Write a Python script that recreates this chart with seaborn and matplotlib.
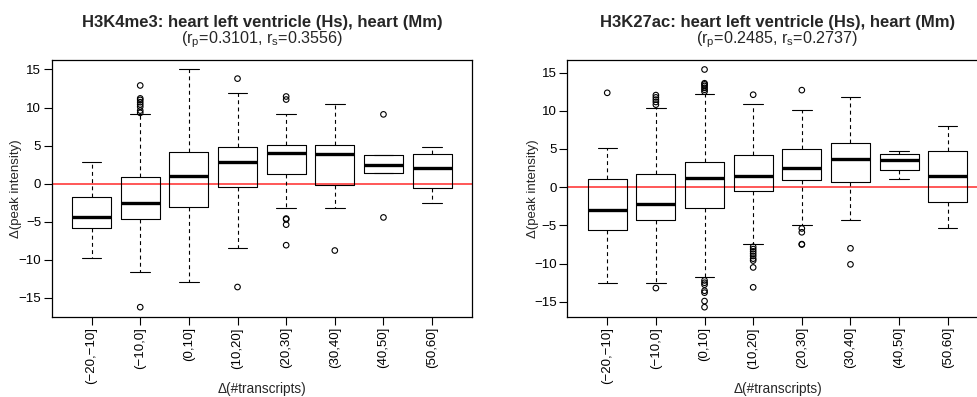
import numpy as np
import pandas as pd
import matplotlib
matplotlib.use("Agg")
import matplotlib.pyplot as plt
import seaborn as sns

# ---------------- data ----------------
categories = ["(\u221220,\u221210]", "(\u221210,0]", "(0,10]", "(10,20]",
              "(20,30]", "(30,40]", "(40,50]", "(50,60]"]

k4_title = "H3K4me3: heart left ventricle (Hs), heart (Mm)"
k4_sub = r"(r$_\mathrm{p}$=0.3101, r$_\mathrm{s}$=0.3556)"
k4_whislo = [-9.8, -11.6, -12.9, -8.5, -3.2, -3.2, 1.4, -2.55]
k4_q1 = [-5.8, -4.6, -3.1, -0.5, 1.3, -0.2, 1.4, -0.6]
k4_med = [-4.45, -2.6, 0.95, 2.8, 4.0, 3.9, 2.45, 2.1]
k4_q3 = [-1.7, 0.9, 4.2, 4.8, 5.1, 5.05, 3.7, 3.85]
k4_whishi = [2.8, 9.15, 15.0, 11.95, 9.2, 10.5, 3.7, 4.85]
k4_fliers = [[],
             [12.9, 11.2, 11.0, 10.7, 10.4, 10.1, 9.6, 9.3, -16.25],
             [],
             [13.8, -13.6],
             [11.45, 11.05, -4.6, -4.7, -5.4, -8.1],
             [-8.8],
             [9.1, -4.45],
             []]

k27_title = "H3K27ac: heart left ventricle (Hs), heart (Mm)"
k27_sub = r"(r$_\mathrm{p}$=0.2485, r$_\mathrm{s}$=0.2737)"
k27_whislo = [-12.6, -12.55, -11.7, -7.45, -4.9, -4.3, 1.1, -5.3]
k27_q1 = [-5.6, -4.3, -2.7, -0.5, 1.0, 0.7, 2.25, -1.9]
k27_med = [-3.0, -2.2, 1.2, 1.5, 2.55, 3.75, 3.6, 1.5]
k27_q3 = [1.05, 1.7, 3.35, 4.25, 4.95, 5.75, 4.4, 4.75]
k27_whishi = [5.15, 10.35, 12.25, 10.95, 10.1, 11.75, 4.75, 8.0]
k27_fliers = [[12.35],
              [12.05, 11.75, 11.45, 11.15, 10.8, -13.2],
              [15.4, 13.6, 13.45, 13.25, 13.0, 12.75, 12.5,
               -12.2, -12.5, -12.75, -13.55, -13.8, -14.9, -15.7],
              [12.1, -7.8, -8.1, -8.4, -8.7, -9.0, -9.35, -9.6, -10.5, -13.1],
              [12.7, -5.4, -5.9, -7.45, -7.5],
              [-8.0, -10.1],
              [],
              []]

yticks = [-15, -10, -5, 0, 5, 10, 15]
xlabel = "\u0394(#transcripts)"
ylabel = "\u0394(peak intensity)"

# ---------------- style ----------------
sns.set_theme(style="ticks")
plt.rcParams["font.family"] = ["Liberation Sans", "DejaVu Sans"]
plt.rcParams["mathtext.fontset"] = "custom"
plt.rcParams["mathtext.rm"] = "Liberation Sans"
plt.rcParams["mathtext.default"] = "regular"

fig = plt.figure(figsize=(9.77, 3.97), dpi=100)
ax_pos = [[0.0529, 0.2023, 0.4302, 0.6466],
          [0.5807, 0.2023, 0.4302, 0.6466]]


def draw(ax, title, sub, whislo, q1, med, q3, whishi, fliers):
    stats = []
    for i in range(len(categories)):
        stats.append(dict(whislo=whislo[i], q1=q1[i], med=med[i], q3=q3[i],
                          whishi=whishi[i], fliers=[], label=categories[i]))
    pos = np.arange(len(categories))
    ax.bxp(stats, positions=pos, widths=0.8, capwidths=0.4, showfliers=False,
           patch_artist=False,
           boxprops=dict(color="black", lw=0.8),
           medianprops=dict(color="black", lw=2.4, solid_capstyle="butt"),
           whiskerprops=dict(color="black", lw=0.8, ls=(0, (3.5, 3))),
           capprops=dict(color="black", lw=0.8))
    rows = [(p, v) for p, fl in zip(pos, fliers) for v in fl]
    df = pd.DataFrame(rows, columns=["pos", "val"])
    sns.scatterplot(data=df, x="pos", y="val", ax=ax, marker="o", s=16,
                    color="black", facecolor="none", edgecolor="black",
                    linewidth=0.8, legend=False, zorder=3)
    ax.axhline(0, color="#ff2a2a", lw=1.1, zorder=1)

    allv = list(whislo) + list(whishi) + [v for fl in fliers for v in fl]
    lo, hi = min(allv), max(allv)
    pad = 0.04 * (hi - lo)
    ax.set_ylim(lo - pad, hi + pad)
    ax.set_xlim(-0.82, len(categories) - 1 + 0.82)
    ax.set_yticks(yticks)
    ax.set_yticklabels([str(t).replace("-", "\u2212") for t in yticks])
    ax.set_xticks(pos)
    ax.set_xticklabels(categories, rotation=90)
    ax.set_xlabel("")
    ax.set_ylabel("")
    ax.tick_params(axis="both", length=6, width=0.8, pad=1.5,
                   labelsize=9.5, colors="black")
    for s in ax.spines.values():
        s.set_visible(True)
        s.set_linewidth(0.9)
        s.set_color("black")
    ax.text(0.5, 1.127, title, transform=ax.transAxes, ha="center",
            va="baseline", fontsize=12, fontweight="bold")
    ax.text(0.5, 1.064, sub, transform=ax.transAxes, ha="center",
            va="baseline", fontsize=11.6)


ax1 = fig.add_axes(ax_pos[0])
draw(ax1, k4_title, k4_sub, k4_whislo, k4_q1, k4_med, k4_q3, k4_whishi, k4_fliers)
ax2 = fig.add_axes(ax_pos[1])
draw(ax2, k27_title, k27_sub, k27_whislo, k27_q1, k27_med, k27_q3, k27_whishi, k27_fliers)

ycen = 1 - 188.35 / 397
fig.text(16 / 977, ycen, ylabel, rotation=90, ha="center", va="center", fontsize=9.5)
fig.text(533.3 / 977, ycen, ylabel, rotation=90, ha="center", va="center", fontsize=9.5)
fig.text(261.9 / 977, 8 / 397, xlabel, ha="center", va="center", fontsize=9.8)
fig.text(777.5 / 977, 8 / 397, xlabel, ha="center", va="center", fontsize=9.8)

fig.savefig("out.png", dpi=100)
